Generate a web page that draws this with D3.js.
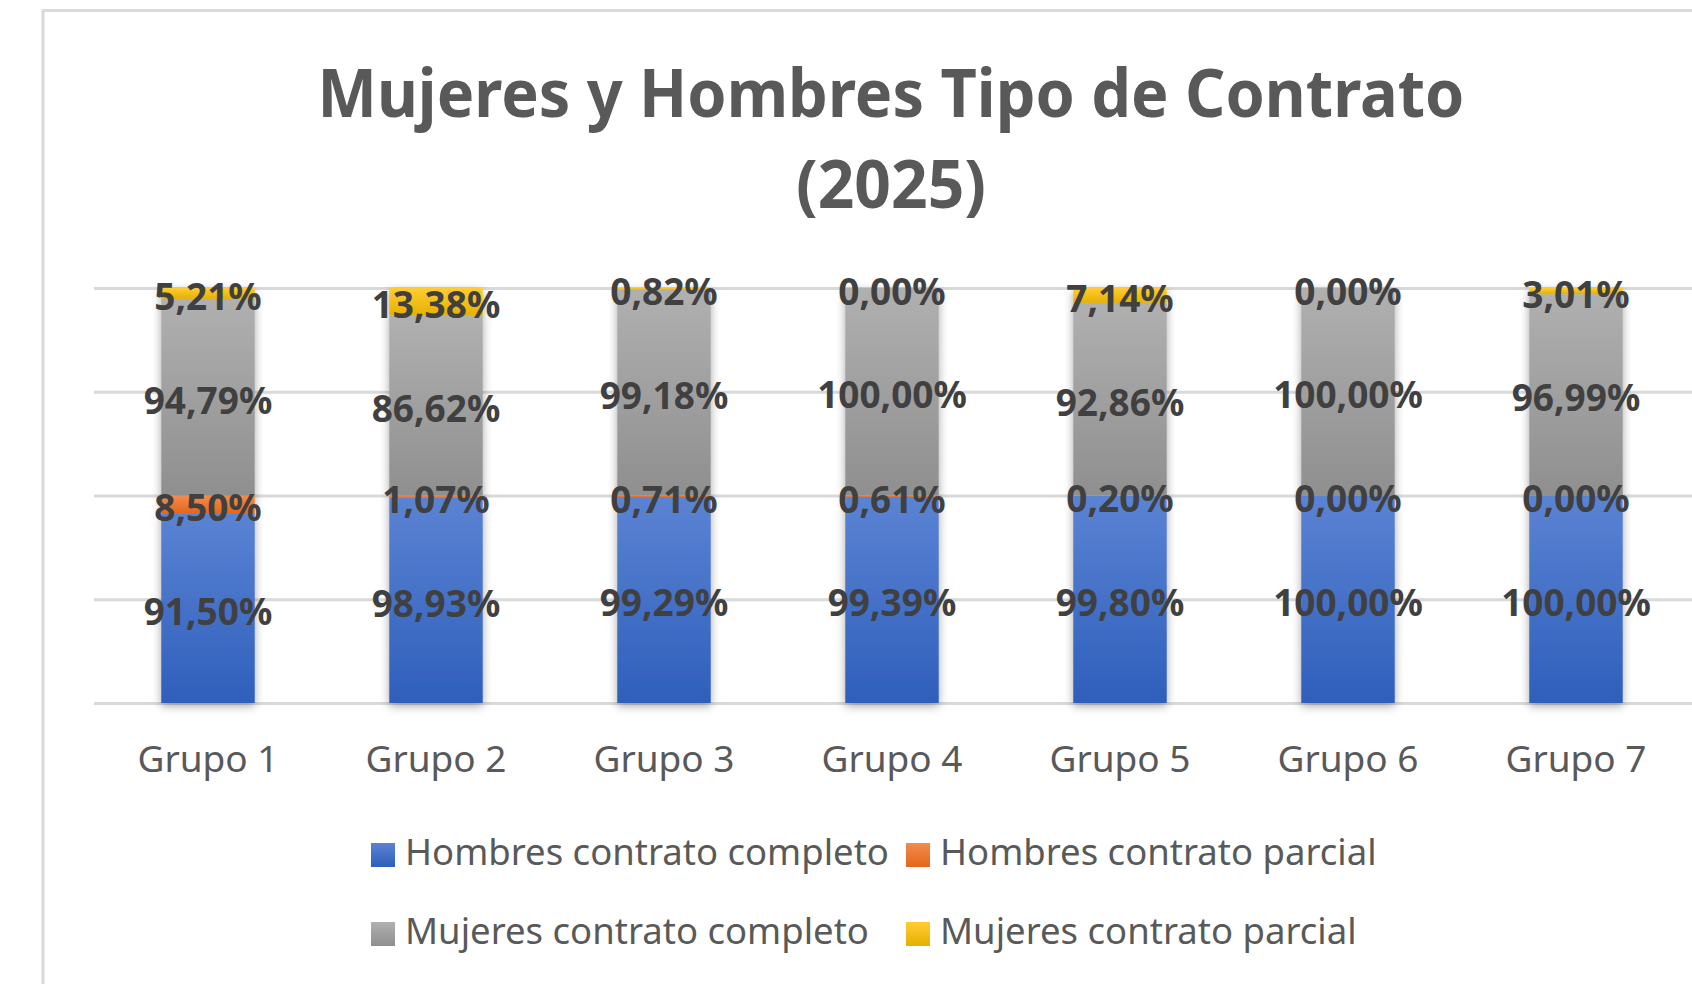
<!DOCTYPE html>
<html>
<head>
<meta charset="utf-8">
<script src="https://cdn.jsdelivr.net/npm/d3@7"></script>
<style>
  html, body { margin: 0; padding: 0; background: #fff; }
  svg { display: block; font-family: 'Noto Sans', sans-serif; }
</style>
</head>
<body>
<svg id="chart" width="1692" height="984"></svg>
<script>
// chart data
const categories = ['Grupo 1', 'Grupo 2', 'Grupo 3', 'Grupo 4', 'Grupo 5', 'Grupo 6', 'Grupo 7'];
const hombresCompleto = [91.50, 98.93, 99.29, 99.39, 99.80, 100.00, 100.00];
const hombresParcial = [8.50, 1.07, 0.71, 0.61, 0.20, 0.00, 0.00];
const mujeresCompleto = [94.79, 86.62, 99.18, 100.00, 92.86, 100.00, 96.99];
const mujeresParcial = [5.21, 13.38, 0.82, 0.00, 7.14, 0.00, 3.01];
const seriesNames = ['Hombres contrato completo', 'Hombres contrato parcial', 'Mujeres contrato completo', 'Mujeres contrato parcial'];
const yTicks = [0, 50, 100, 150, 200];

const gradients = {
  'Hombres contrato completo': ['#5b83d3', '#2e5fbb'],
  'Hombres contrato parcial': ['#f28c4e', '#e4661c'],
  'Mujeres contrato completo': ['#b0b0b0', '#8f8f8f'],
  'Mujeres contrato parcial': ['#ffcd33', '#e5b000']
};

const rows = categories.map((c, i) => ({
  cat: c,
  'Hombres contrato completo': hombresCompleto[i],
  'Hombres contrato parcial': hombresParcial[i],
  'Mujeres contrato completo': mujeresCompleto[i],
  'Mujeres contrato parcial': mujeresParcial[i]
}));

const svg = d3.select('#chart');
const defs = svg.append('defs');

seriesNames.forEach((name, k) => {
  const g = defs.append('linearGradient')
    .attr('id', 'grad' + k)
    .attr('x1', 0).attr('y1', 0).attr('x2', 0).attr('y2', 1);
  g.append('stop').attr('offset', '0%').attr('stop-color', gradients[name][0]);
  g.append('stop').attr('offset', '100%').attr('stop-color', gradients[name][1]);
});

const shadow = defs.append('filter').attr('id', 'shadow')
  .attr('x', '-30%').attr('y', '-10%').attr('width', '160%').attr('height', '120%');
shadow.append('feDropShadow')
  .attr('dx', 0).attr('dy', 3).attr('stdDeviation', 5)
  .attr('flood-color', '#000').attr('flood-opacity', 0.35);

// chart frame
svg.append('line').attr('x1', 43).attr('x2', 43).attr('y1', 10).attr('y2', 984)
  .attr('stroke', '#d9d9d9').attr('stroke-width', 3);
svg.append('line').attr('x1', 42).attr('x2', 1692).attr('y1', 10.5).attr('y2', 10.5)
  .attr('stroke', '#d9d9d9').attr('stroke-width', 3);

// title
const title = svg.append('text')
  .attr('text-anchor', 'middle')
  .attr('fill', '#595959')
  .attr('font-weight', 'bold')
  .attr('font-size', 66);
title.append('tspan').attr('x', 891).attr('y', 117)
  .attr('textLength', 1147).attr('lengthAdjust', 'spacingAndGlyphs')
  .text('Mujeres y Hombres Tipo de Contrato');
title.append('tspan').attr('x', 891).attr('y', 208)
  .attr('textLength', 190).attr('lengthAdjust', 'spacingAndGlyphs')
  .text('(2025)');

const x = d3.scaleBand().domain(categories).range([94, 1690])
  .paddingInner(0.59).paddingOuter(0.295);
const y = d3.scaleLinear().domain([0, 200]).range([703, 288]);

// gridlines
svg.append('g')
  .attr('transform', 'translate(94,0)')
  .call(d3.axisLeft(y).tickValues(yTicks).tickSize(-1600).tickFormat(''))
  .call(g => g.select('.domain').remove())
  .call(g => g.selectAll('.tick line').attr('stroke', '#d9d9d9').attr('stroke-width', 3));

const stacked = d3.stack().keys(seriesNames)(rows);

const locale = d3.formatLocale({ decimal: ',', thousands: '.', grouping: [3], currency: ['', '€'] });
const fmt = v => locale.format('.2f')(v) + '%';

// bars, one shadowed group per category
const barGroups = svg.append('g').selectAll('g')
  .data(categories)
  .join('g')
  .attr('filter', 'url(#shadow)');

barGroups.each(function (cat, i) {
  d3.select(this).selectAll('rect')
    .data(stacked.map((s, k) => ({ k, d: s[i] })))
    .join('rect')
    .attr('x', x(cat))
    .attr('width', x.bandwidth())
    .attr('y', o => y(o.d[1]))
    .attr('height', o => Math.max(0, y(o.d[0]) - y(o.d[1])))
    .attr('fill', o => `url(#grad${o.k})`);
});

// data labels
const labels = svg.append('g');
stacked.forEach(s => {
  labels.selectAll(null)
    .data(s)
    .join('text')
    .attr('x', d => x(d.data.cat) + x.bandwidth() / 2)
    .attr('y', d => y((d[0] + d[1]) / 2) + 2)
    .attr('text-anchor', 'middle')
    .attr('dominant-baseline', 'central')
    .attr('font-size', 37)
    .attr('font-weight', 'bold')
    .attr('fill', '#404040')
    .text(d => fmt(d[1] - d[0]));
});

// category axis
const xAxis = svg.append('g')
  .attr('transform', 'translate(0,703)')
  .call(d3.axisBottom(x).tickSize(0).tickPadding(0));
xAxis.select('.domain').remove();
xAxis.selectAll('text')
  .attr('y', 69)
  .attr('dy', 0)
  .attr('font-family', 'Noto Sans, sans-serif')
  .attr('font-size', 37)
  .attr('fill', '#595959');

// legend
const legend = svg.append('g').selectAll('g')
  .data(seriesNames)
  .join('g')
  .attr('transform', (d, i) => `translate(${371 + (i % 2) * 535},${843 + Math.floor(i / 2) * 79})`);
legend.append('rect')
  .attr('width', 24).attr('height', 24)
  .attr('fill', (d, i) => `url(#grad${i})`);
legend.append('text')
  .attr('x', 34).attr('y', 22)
  .attr('font-size', 36.5)
  .attr('fill', '#595959')
  .text(d => d);
</script>
</body>
</html>
